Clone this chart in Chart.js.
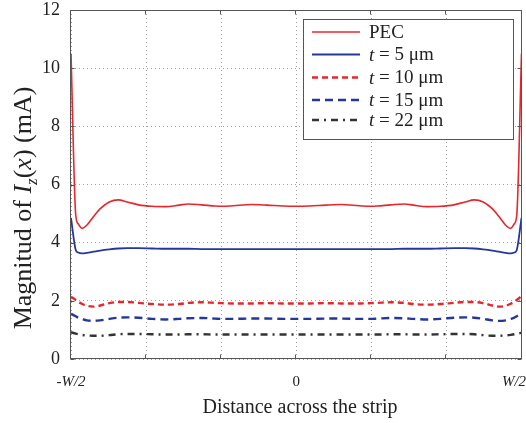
<!DOCTYPE html>
<html><head><meta charset="utf-8">
<script src="https://cdn.jsdelivr.net/npm/chart.js@4.4.1/dist/chart.umd.min.js"></script>
<style>html,body{margin:0;padding:0;background:#fff;overflow:hidden}</style>
</head><body>
<canvas id="c" width="526" height="423" style="display:block;width:526px;height:423px"></canvas>
<script>
// Position across the strip, in units of W (-W/2 .. W/2)
const xPos = [-0.5,-0.4895,-0.484,-0.476,-0.465,-0.45,-0.435,-0.415,-0.395,-0.375,-0.35,-0.32,-0.29,-0.26,-0.24,-0.21,-0.18,-0.165,-0.14,-0.10,-0.065,-0.03,0,0.03,0.065,0.10,0.14,0.165,0.18,0.21,0.24,0.26,0.29,0.32,0.35,0.375,0.395,0.415,0.435,0.45,0.465,0.476,0.484,0.4895,0.5];
const pec = [10.5,4.95,4.65,4.49,4.6,4.9,5.17,5.4,5.47,5.4,5.3,5.25,5.24,5.29,5.33,5.3,5.26,5.25,5.27,5.31,5.29,5.26,5.25,5.26,5.29,5.31,5.27,5.25,5.26,5.3,5.33,5.29,5.24,5.25,5.3,5.4,5.47,5.4,5.17,4.9,4.6,4.49,4.65,4.95,10.5];
const t5 = [4.85,3.75,3.66,3.63,3.65,3.69,3.73,3.77,3.8,3.81,3.81,3.8,3.79,3.79,3.79,3.78,3.78,3.78,3.78,3.78,3.78,3.78,3.78,3.78,3.78,3.78,3.78,3.78,3.78,3.78,3.79,3.79,3.79,3.8,3.81,3.81,3.8,3.77,3.73,3.69,3.65,3.63,3.66,3.75,4.85];
const t10 = [2.14,2.03,1.97,1.9,1.83,1.8,1.84,1.92,1.96,1.96,1.93,1.89,1.87,1.89,1.93,1.95,1.93,1.92,1.91,1.91,1.92,1.91,1.91,1.91,1.92,1.91,1.91,1.92,1.93,1.95,1.93,1.89,1.87,1.89,1.93,1.96,1.96,1.92,1.84,1.8,1.83,1.9,1.97,2.03,2.17];
const t15 = [1.55,1.47,1.42,1.38,1.33,1.31,1.33,1.38,1.42,1.43,1.42,1.38,1.36,1.38,1.4,1.41,1.39,1.38,1.38,1.39,1.39,1.38,1.38,1.38,1.39,1.39,1.38,1.38,1.39,1.41,1.4,1.38,1.36,1.38,1.42,1.43,1.42,1.38,1.33,1.31,1.33,1.38,1.42,1.47,1.56];
const t22 = [0.92,0.87,0.85,0.83,0.81,0.8,0.8,0.82,0.85,0.86,0.86,0.85,0.84,0.84,0.85,0.85,0.84,0.84,0.84,0.84,0.84,0.84,0.84,0.84,0.84,0.84,0.84,0.84,0.84,0.85,0.85,0.84,0.84,0.85,0.86,0.86,0.85,0.82,0.8,0.8,0.81,0.83,0.85,0.87,0.9];
const seriesNames = ['PEC','t = 5 μm','t = 10 μm','t = 15 μm','t = 22 μm'];
const xTickValues = [-0.5,-1/3,-1/6,0,1/6,1/3,0.5];
const xTickLabels = ['-W/2','','','0','','','W/2\u00A0\u00A0\u00A0\u00A0'];
const yMin = 0, yMax = 12, yStep = 2;

const SERIF = "'Liberation Serif', 'Times New Roman', serif";
const pts = arr => xPos.map((x, i) => ({x: x, y: arr[i]}));
const styles = [
  {color:'#e8262b', width:1.6, dash:[]},
  {color:'#25379a', width:1.8, dash:[]},
  {color:'#e8262b', width:2.4, dash:[6,4]},
  {color:'#25379a', width:2.4, dash:[8,5]},
  {color:'#333333', width:2.4, dash:[7,5,2,5]}
];
const seriesData = [pec, t5, t10, t15, t22];
const datasets = seriesData.map((arr, i) => ({
  label: seriesNames[i],
  data: pts(arr),
  borderColor: styles[i].color,
  borderWidth: styles[i].width,
  borderDash: styles[i].dash,
  fill: false,
  pointRadius: 0,
  cubicInterpolationMode: 'monotone'
}));

function drawSegs(ctx, segs, x, y, align) {
  let total = 0;
  segs.forEach(s => { ctx.font = s.font; s.w = ctx.measureText(s.t).width; total += s.w; });
  let cx = align === 'center' ? x - total / 2 : x;
  segs.forEach(s => { ctx.font = s.font; ctx.fillText(s.t, cx, y + (s.dy || 0)); cx += s.w; });
}
function nameSegs(name, size) {
  if (name.startsWith('t ')) {
    return [{t:'t', font:'italic ' + size + 'px ' + SERIF}, {t:name.slice(1), font:size + 'px ' + SERIF}];
  }
  return [{t:name, font:size + 'px ' + SERIF}];
}
function noPad(s) { s.paddingLeft = 0; s.paddingRight = 0; s.paddingTop = 0; s.paddingBottom = 0; }

const decor = {
  id: 'decor',
  afterDraw(chart) {
    const ctx = chart.ctx, a = chart.chartArea;
    const xs = chart.scales.x, ys = chart.scales.y;
    ctx.save();
    // frame
    ctx.strokeStyle = '#555'; ctx.lineWidth = 1; ctx.setLineDash([]);
    const L = Math.round(a.left) - 0.5, R = Math.round(a.right) - 0.5, T = Math.round(a.top) + 0.5, B = Math.round(a.bottom) - 0.5;
    ctx.strokeRect(L, T, R - L, B - T);
    // inward ticks
    ctx.beginPath();
    xTickValues.forEach(v => { const px = Math.round(xs.getPixelForValue(v)) - 0.5; ctx.moveTo(px, B); ctx.lineTo(px, B - 4); ctx.moveTo(px, T); ctx.lineTo(px, T + 4); });
    for (let v = yMin; v <= yMax; v += yStep) { const py = Math.round(ys.getPixelForValue(v)) + 0.5; ctx.moveTo(L, py); ctx.lineTo(L + 4, py); ctx.moveTo(R, py); ctx.lineTo(R - 4, py); }
    ctx.stroke();
    // legend box
    ctx.fillStyle = '#fff';
    ctx.fillRect(303.5, 19.5, 210, 120);
    ctx.strokeStyle = '#555';
    ctx.strokeRect(303.5, 19.5, 210, 120);
    const rows = [32, 54.5, 77.5, 100, 120];
    chart.data.datasets.forEach((ds, i) => {
      ctx.save();
      ctx.strokeStyle = ds.borderColor; ctx.lineWidth = ds.borderWidth; ctx.setLineDash(ds.borderDash || []);
      ctx.beginPath(); ctx.moveTo(312, rows[i]); ctx.lineTo(360, rows[i]); ctx.stroke();
      ctx.restore();
      ctx.fillStyle = '#222'; ctx.textBaseline = 'middle'; ctx.textAlign = 'left';
      drawSegs(ctx, nameSegs(ds.label, 19), 369, rows[i] + 1, 'left');
    });
    // x title
    ctx.fillStyle = '#222'; ctx.textBaseline = 'middle'; ctx.textAlign = 'left';
    drawSegs(ctx, [{t:'Distance across the strip', font:'20px ' + SERIF}], 300, 408, 'center');
    // y title
    ctx.textBaseline = 'alphabetic';
    ctx.translate(30.5, 208); ctx.rotate(-Math.PI / 2);
    drawSegs(ctx, [
      {t:'Magnitud of ', font:'26px ' + SERIF},
      {t:'I', font:'italic 26px ' + SERIF},
      {t:'z', font:'italic 17px ' + SERIF, dy:6},
      {t:'(', font:'26px ' + SERIF},
      {t:'x', font:'italic 26px ' + SERIF},
      {t:') (mA)', font:'26px ' + SERIF}
    ], 0, 0, 'center');
    ctx.restore();
  }
};

new Chart(document.getElementById('c'), {
  type: 'line',
  data: { datasets: datasets },
  options: {
    responsive: false, animation: false, devicePixelRatio: 1,
    layout: { autoPadding: false, padding: { top: 10, right: 4.5, left: 0, bottom: 0 } },
    plugins: { legend: { display: false }, tooltip: { enabled: false } },
    scales: {
      x: {
        type: 'linear', min: -0.5, max: 0.5,
        afterBuildTicks: s => { s.ticks = xTickValues.map(v => ({ value: v })); },
        afterFit: s => { s.height = 64; noPad(s); },
        grid: { color: '#a0a0a0', lineWidth: 1, drawTicks: false },
        border: { display: false, dash: [1, 3] },
        ticks: {
          autoSkip: false, maxRotation: 0, minRotation: 0, padding: 14, color: '#222',
          font: ctx => ({ family: SERIF, size: 15, style: (ctx.tick && ctx.tick.value !== 0) ? 'italic' : 'normal' }),
          callback: (v, i) => xTickLabels[i]
        }
      },
      y: {
        min: yMin, max: yMax,
        afterFit: s => { s.width = 71; noPad(s); },
        grid: { color: '#a0a0a0', lineWidth: 1, drawTicks: false },
        border: { display: false, dash: [1, 3] },
        ticks: { stepSize: yStep, padding: 11, color: '#222', font: { family: SERIF, size: 18 } }
      }
    }
  },
  plugins: [decor]
});
</script>
</body></html>
